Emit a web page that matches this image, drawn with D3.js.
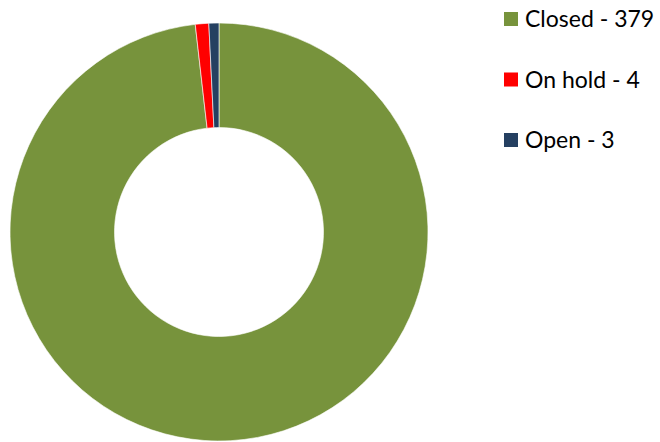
<!DOCTYPE html>
<html>
<head>
<meta charset="utf-8">
<script src="https://cdn.jsdelivr.net/npm/d3@7"></script>
<style>
  html, body { margin: 0; padding: 0; background: #fff; }
  svg { display: block; }
</style>
</head>
<body>
<svg id="chart" width="660" height="442"></svg>
<script>
// Ticket status counts
const categories = ["Closed", "On hold", "Open"];
const counts = [379, 4, 3];
const colors = ["#77933C", "#FF0000", "#254061"];

const svg = d3.select("#chart");
const cx = 219, cy = 232;
const outerR = 209, innerR = 104.5;

const pie = d3.pie().sort(null).value(d => d.value);
const arc = d3.arc().innerRadius(innerR).outerRadius(outerR);

const data = categories.map((c, i) => ({ name: c, value: counts[i], color: colors[i] }));

const g = svg.append("g").attr("transform", `translate(${cx},${cy})`);
g.selectAll("path")
  .data(pie(data))
  .join("path")
  .attr("d", arc)
  .attr("fill", d => d.data.color)
  .attr("stroke", "#fff")
  .attr("stroke-width", 0.6);

// Legend
const legend = svg.append("g").attr("transform", "translate(504,0)");
const rowY = d3.scalePoint().domain(categories).range([19, 140]);
const items = legend.selectAll("g")
  .data(data)
  .join("g")
  .attr("transform", d => `translate(0,${rowY(d.name)})`);
items.append("rect")
  .attr("x", 0).attr("y", -7)
  .attr("width", 14).attr("height", 14)
  .attr("fill", d => d.color);
items.append("text")
  .attr("x", 21)
  .attr("y", 0)
  .attr("dy", "0.35em")
  .attr("font-family", "Lato, 'Open Sans', sans-serif")
  .attr("font-size", 23)
  .attr("fill", "#000")
  .text(d => `${d.name} - ${d.value}`);
</script>
</body>
</html>
